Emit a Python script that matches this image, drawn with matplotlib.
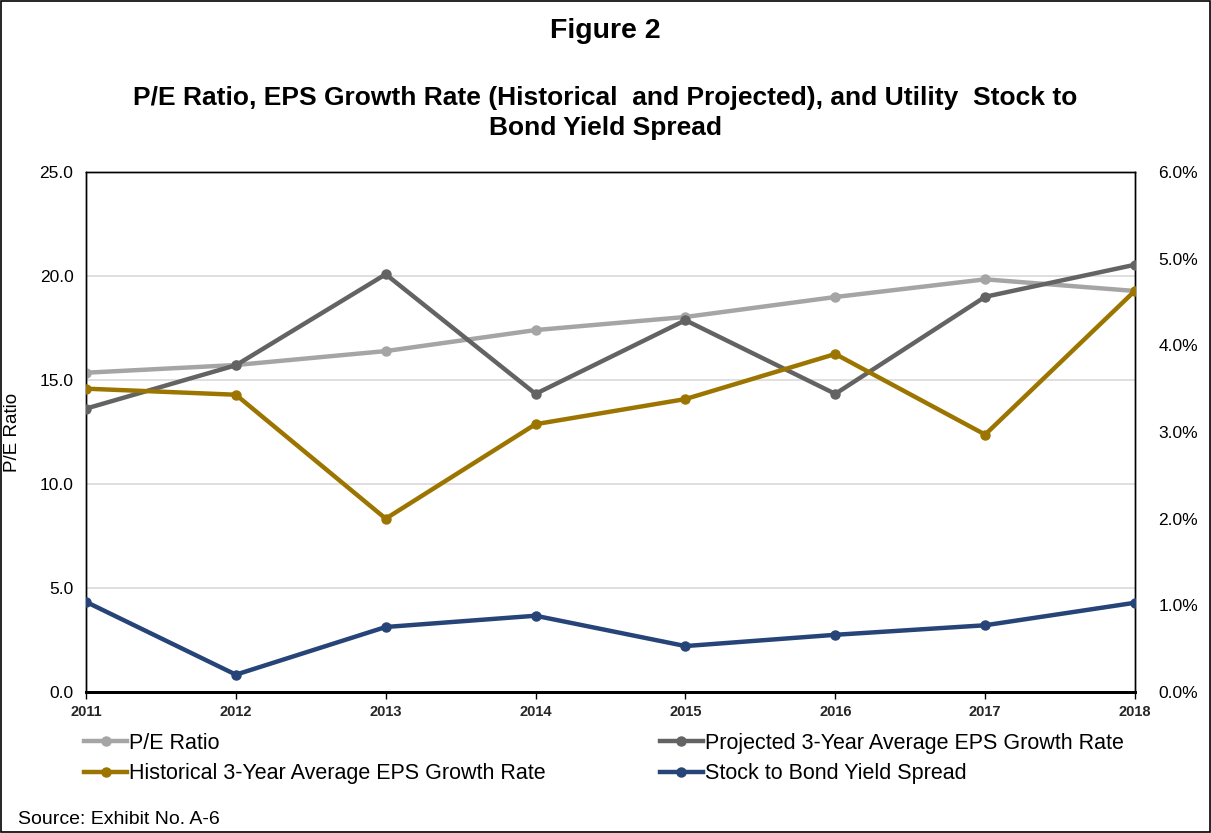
import matplotlib
matplotlib.use("Agg")
import matplotlib.pyplot as plt
from matplotlib.ticker import FuncFormatter
from matplotlib.patches import Rectangle

years = [2011, 2012, 2013, 2014, 2015, 2016, 2017, 2018]
pe_ratio = [15.35, 15.72, 16.39, 17.40, 18.03, 18.99, 19.84, 19.28]
projected_eps = [3.27, 3.77, 4.82, 3.44, 4.29, 3.44, 4.56, 4.93]
historical_eps = [3.50, 3.43, 2.00, 3.09, 3.38, 3.90, 2.97, 4.63]
spread = [1.04, 0.20, 0.75, 0.88, 0.53, 0.66, 0.77, 1.03]

labels = ["P/E Ratio", "Projected 3-Year Average EPS Growth Rate",
          "Historical 3-Year Average EPS Growth Rate", "Stock to Bond Yield Spread"]
colors = ["#A5A5A5", "#636363", "#9C7500", "#264478"]

plt.rcParams['font.family'] = ['Liberation Sans', 'DejaVu Sans']

fig = plt.figure(figsize=(12.11, 8.33), dpi=100)
ax = fig.add_axes([86/1211, 1-692/833, (1135-86)/1211, (692-172)/833])
ax2 = ax.twinx()

lw = 3.2
ms = 6.5
l1, = ax.plot(years, pe_ratio, color=colors[0], lw=lw, marker='o', ms=ms, label=labels[0], zorder=3)
l2, = ax2.plot(years, projected_eps, color=colors[1], lw=lw, marker='o', ms=ms, label=labels[1], zorder=3)
l3, = ax2.plot(years, historical_eps, color=colors[2], lw=lw, marker='o', ms=ms, label=labels[2], zorder=3)
l4, = ax2.plot(years, spread, color=colors[3], lw=lw, marker='o', ms=ms, label=labels[3], zorder=3)

ax.set_xlim(2011, 2018)
ax.set_ylim(0, 25)
ax2.set_ylim(0, 6)
ax.set_yticks([0, 5, 10, 15, 20, 25])
ax.yaxis.set_major_formatter(FuncFormatter(lambda v, p: f"{v:.1f}"))
ax2.set_yticks([0, 1, 2, 3, 4, 5, 6])
ax2.yaxis.set_major_formatter(FuncFormatter(lambda v, p: f"{v:.1f}%"))
ax.set_xticks(years)
ax.set_xticklabels([str(y) for y in years], fontsize=10.5, fontweight='bold', color='#262626')

for yv in [5, 10, 15, 20]:
    ax.axhline(yv, color='#D9D9D9', lw=1.2, zorder=1)

ax.tick_params(axis='y', length=0, labelsize=12.5, pad=9)
ax2.tick_params(axis='y', length=0, labelsize=12.5, pad=17)
ax.tick_params(axis='x', length=5, width=1, direction='out', pad=4)
for a in (ax, ax2):
    for s in a.spines.values():
        s.set_color('black')
        s.set_linewidth(1.0)
ax.spines['bottom'].set_linewidth(2.0)
ax2.spines['bottom'].set_linewidth(2.0)

ax.set_ylabel("P/E Ratio", fontsize=13.5)
ax.yaxis.set_label_coords(-0.062, 0.5)

fig.text(0.5, 1-31/833, "Figure 2", ha='center', va='center', fontsize=20.5, fontweight='bold')
fig.text(0.5, 1-98/833, "P/E Ratio, EPS Growth Rate (Historical  and Projected), and Utility  Stock to",
         ha='center', va='center', fontsize=19, fontweight='bold')
fig.text(0.5, 1-128/833, "Bond Yield Spread",
         ha='center', va='center', fontsize=19, fontweight='bold')

leg = fig.legend([l1, l3, l2, l4], [labels[0], labels[2], labels[1], labels[3]],
                 ncol=2, loc='upper left', bbox_to_anchor=(84/1211, 1-733/833),
                 frameon=False, fontsize=15.5, handlelength=2.0, handletextpad=0.1,
                 columnspacing=5.3, labelspacing=0.42, borderaxespad=0, borderpad=0)

fig.text(18/1211, 1-819/833, "Source: Exhibit No. A-6", ha='left', va='center', fontsize=14)

fig.patches.append(Rectangle((1/1211, 1/833), 1-2/1211, 1-2/833, transform=fig.transFigure,
                             fill=False, edgecolor='black', lw=1.2))

fig.savefig("out.png", dpi=100)
